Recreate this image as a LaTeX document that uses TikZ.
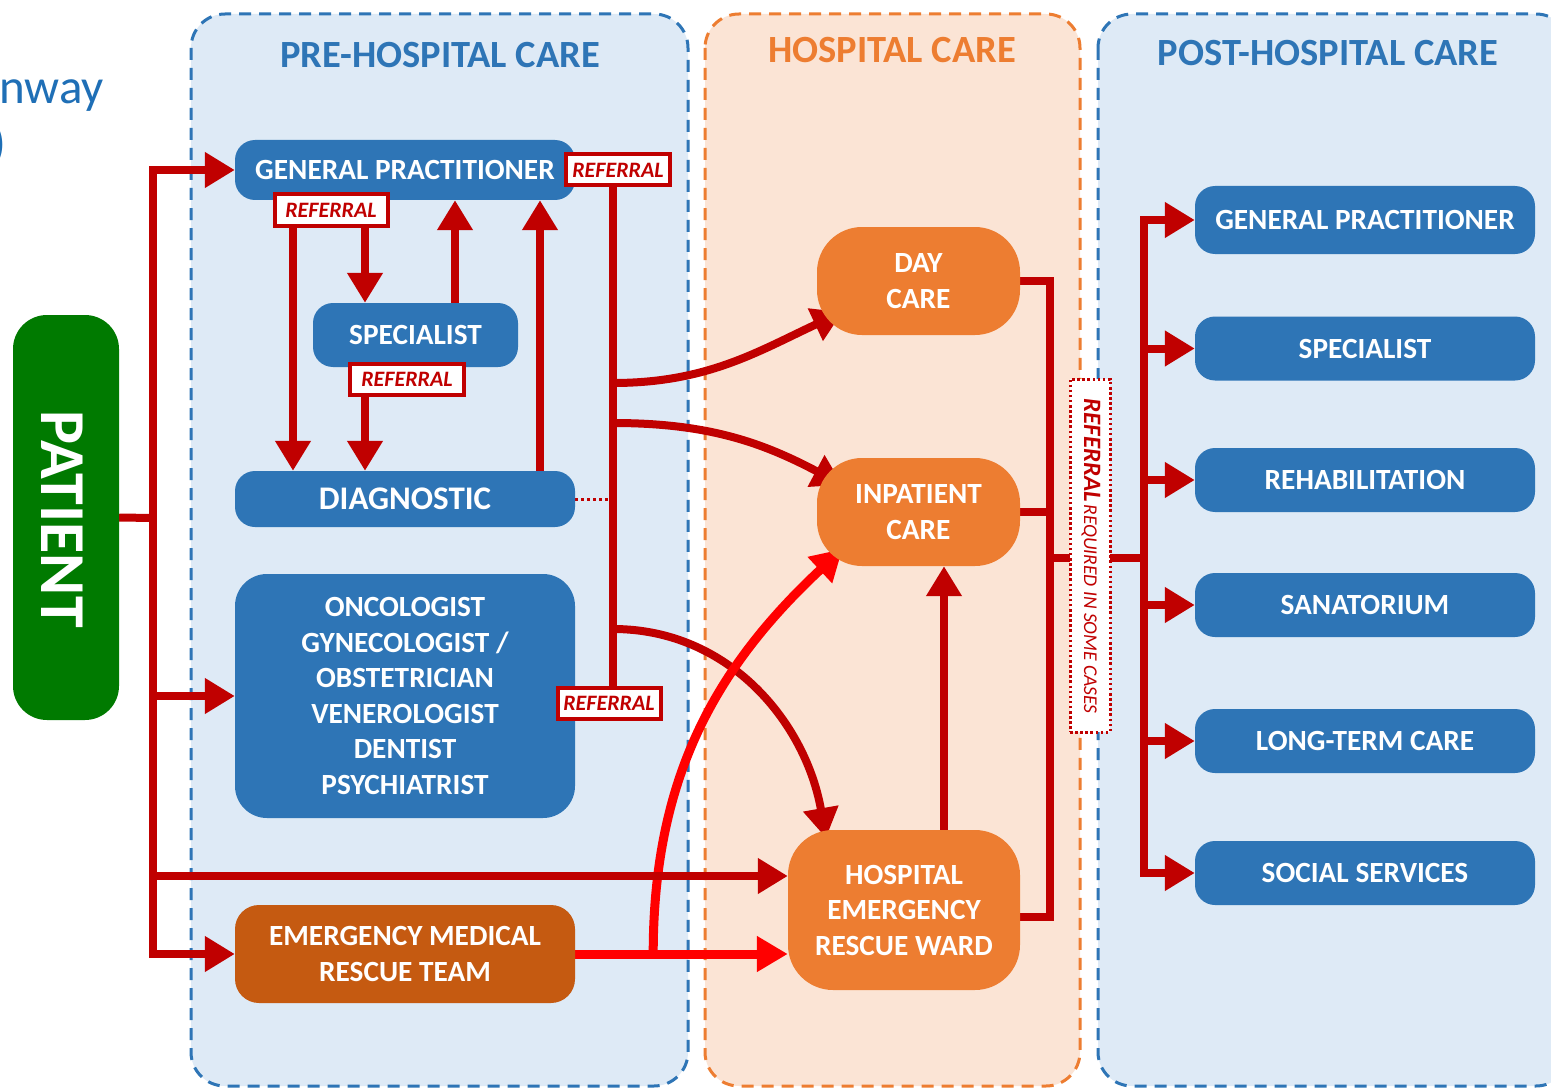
\documentclass[tikz,border=0pt]{standalone}
\usepackage{fontspec}
\setmainfont{Carlito}
\usetikzlibrary{arrows.meta,calc}

\definecolor{cBlue}{HTML}{2E75B6}
\definecolor{cPaleBlue}{HTML}{DEEAF6}
\definecolor{cPaleOrange}{HTML}{FBE4D5}
\definecolor{cOrange}{HTML}{ED7D31}
\definecolor{cDarkOrange}{HTML}{C55A11}
\definecolor{cRed}{HTML}{C00000}
\definecolor{cBright}{HTML}{FF0000}
\definecolor{cGreen}{HTML}{007A00}
\definecolor{cTitle}{HTML}{1F6FB6}

\newcommand{\bxfont}{\fontsize{29.3}{35.5}\selectfont\bfseries}
\newcommand{\hdfont}{\fontsize{38.5}{40}\selectfont\bfseries}
\newcommand{\rffont}{\fontsize{22}{24}\selectfont\bfseries\itshape}

\pgfdeclarelayer{panels}
\pgfdeclarelayer{links}
\pgfsetlayers{panels,links,main}

\tikzset{
  x=1pt, y=1pt,
  panel/.style={line width=3pt, dash pattern=on 12pt off 8pt, rounded corners=34pt},
  basebox/.style={inner sep=0pt, align=center, text=white, font=\bxfont},
  bluebox/.style={basebox, fill=cBlue, rounded corners=20pt},
  orangebox/.style={basebox, fill=cOrange, rounded corners=45pt},
  refbox/.style={draw=cRed, line width=4pt, fill=white, text=cRed, inner sep=0pt,
    font=\rffont, minimum height=31pt},
  header/.style={inner sep=0pt, font=\hdfont},
  link/.style={draw=cRed, line width=8pt},
  arrowlink/.style={link, -{Triangle[length=30pt,width=34pt]}},
  brightlink/.style={draw=cBright, line width=9pt, -{Triangle[length=31pt,width=34pt]}},
}

\begin{document}
\begin{tikzpicture}
\useasboundingbox (0,0) rectangle (1551,-1089);

% the three care stages
\begin{pgfonlayer}{panels}
  \fill[white] (0,0) rectangle (1551,-1089);
  \filldraw[panel, fill=cPaleBlue, draw=cBlue] (191,-14) rectangle (688,-1086);
  \filldraw[panel, fill=cPaleOrange, draw=cOrange] (705,-14) rectangle (1080,-1086);
  \filldraw[panel, fill=cPaleBlue, draw=cBlue] (1098,-14) rectangle (1570,-1086);
\end{pgfonlayer}

% partly visible title at the left edge
\node[anchor=base west, inner sep=0pt, text=cTitle, font=\fontsize{49}{49}\selectfont] (titleA) at (-1,-104) {nway};
\node[anchor=base east, inner sep=0pt, text=cTitle, font=\fontsize{49}{49}\selectfont] (titleB) at (7,-160) {)};

\node[header, text=cBlue] (hPre) at (440,-55) {PRE-HOSPITAL CARE};
\node[header, text=cOrange] (hHosp) at (892,-50) {HOSPITAL CARE};
\node[header, text=cBlue] (hPost) at (1328,-53) {POST-HOSPITAL CARE};

% patient
\node[fill=cGreen, rounded corners=34pt, minimum width=106pt, minimum height=405pt, inner sep=0pt] (patient) at (66,-517.5) {};
\node[rotate=-90, text=white, inner sep=0pt, font=\fontsize{64}{64}\selectfont\bfseries] (patientText) at (62,-519) {PATIENT};

% pre-hospital care
\node[bluebox, minimum width=340pt, minimum height=60pt] (gp1) at (405,-170) {GENERAL PRACTITIONER};
\node[bluebox, minimum width=205pt, minimum height=64pt] (spec1) at (415.5,-335) {SPECIALIST};
\node[bluebox, minimum width=340pt, minimum height=56pt, font=\fontsize{33}{36}\selectfont\bfseries] (diag) at (405,-499) {DIAGNOSTIC};
\node[bluebox, minimum width=340pt, minimum height=244pt, rounded corners=32pt] (onco) at (405,-696)
  {ONCOLOGIST\\GYNECOLOGIST /\\OBSTETRICIAN\\VENEROLOGIST\\DENTIST\\PSYCHIATRIST};
\node[basebox, fill=cDarkOrange, rounded corners=24pt, minimum width=340pt, minimum height=98pt] (emrt) at (405,-954)
  {EMERGENCY MEDICAL\\RESCUE TEAM};

\node[refbox, minimum width=104pt] (r1) at (618,-170) {REFERRAL};
\node[refbox, minimum width=113pt] (r2) at (331,-210) {REFERRAL};
\node[refbox, minimum width=114pt] (r3) at (407,-379) {REFERRAL};
\node[refbox, minimum width=103pt] (r4) at (609,-703) {REFERRAL};

% hospital care
\node[orangebox, minimum width=203pt, minimum height=108pt] (day) at (918.5,-281) {DAY\\CARE};
\node[orangebox, minimum width=203pt, minimum height=108pt] (inp) at (918.5,-512) {INPATIENT\\CARE};
\node[orangebox, minimum width=232pt, minimum height=160pt] (herw) at (904,-910) {HOSPITAL\\EMERGENCY\\RESCUE WARD};

% referral note between hospital and post-hospital care
\node[draw=cRed, fill=white, line width=3pt, dash pattern=on 2.5pt off 2.6pt, minimum width=40pt, minimum height=353pt, inner sep=0pt] (refNote) at (1090,-555.5) {};
\node[rotate=-90, text=cRed, inner sep=0pt] (refNoteText) at (1091,-556)
  {{\fontsize{25}{26}\selectfont\bfseries\itshape REFERRAL} {\fontsize{19.5}{20}\selectfont\itshape REQUIRED IN SOME CASES}};

% post-hospital care
\node[bluebox, minimum width=340pt, minimum height=68pt] (p1) at (1365,-220) {GENERAL PRACTITIONER};
\node[bluebox, minimum width=340pt, minimum height=64pt] (p2) at (1365,-348.5) {SPECIALIST};
\node[bluebox, minimum width=340pt, minimum height=64pt] (p3) at (1365,-480) {REHABILITATION};
\node[bluebox, minimum width=340pt, minimum height=64pt] (p4) at (1365,-605) {SANATORIUM};
\node[bluebox, minimum width=340pt, minimum height=64pt] (p5) at (1365,-741) {LONG-TERM CARE};
\node[bluebox, minimum width=340pt, minimum height=64pt] (p6) at (1365,-873) {SOCIAL SERVICES};

% junctions and rails
\coordinate (jP) at (153,-518);
\coordinate (cA) at (293,0);
\coordinate (cB) at (365,0);
\coordinate (cC) at (455,0);
\coordinate (cD) at (540,0);
\coordinate (cE) at (613,0);
\coordinate (cF) at (944,0);
\coordinate (k1) at (613,-383);
\coordinate (k2) at (613,-423);
\coordinate (k3) at (613,-629);
\coordinate (tDay) at ($(day.center)+(-76,-31)$);
\coordinate (tInp) at ($(inp.center)+(-76,27)$);
\coordinate (tInpLow) at ($(inp.center)+(-76,-37)$);
\coordinate (tHer) at ($(herw.center)+(-78,72)$);
\coordinate (hIn) at ($(herw.west)+(0,34)$);
\coordinate (hOut) at ($(herw.east)+(0,-7)$);
\coordinate (bSplit) at ($(emrt.east)+(78,0)$);
\coordinate (jH) at (1050,-558);
\coordinate (jR) at (1144,-558);

\begin{pgfonlayer}{links}
  % within pre-hospital care
  \draw[arrowlink] (cA |- r2.south) -- (cA |- diag.north);
  \draw[arrowlink] (cB |- r2.south) -- (cB |- spec1.north);
  \draw[arrowlink] (cC |- spec1.north) -- (cC |- gp1.south);
  \draw[arrowlink] (cD |- diag.north) -- (cD |- gp1.south);
  \draw[arrowlink] (cB |- r3.south) -- (cB |- diag.north);
  \draw[link] (cE |- r1.south) -- (cE |- r4.north);
  \draw[draw=cRed, line width=3pt, dash pattern=on 3pt off 3pt] (diag.east) -- (cE |- diag.east);

  % referrals into hospital care
  \draw[arrowlink] (k1) to[out=0, in=205] (tDay);
  \draw[arrowlink] (k2) to[out=0, in=152] (tInp);
  \draw[arrowlink] (k3) to[out=0, in=100] (tHer);
  \draw[arrowlink] (herw.north -| cF) -- (inp.south -| cF);

  % emergency team
  \draw[brightlink] (bSplit) to[out=90, in=223] (tInpLow);
  \draw[brightlink] (emrt.east) -- (emrt.east -| herw.west);

  % from the patient
  \draw[link] (patient.east) -- (jP);
  \draw[arrowlink] (jP) |- (gp1.west);
  \draw[arrowlink] (jP) |- (onco.west);
  \draw[arrowlink] (jP) |- (hIn);
  \draw[arrowlink] (jP) |- (emrt.west);

  % discharge to post-hospital care
  \draw[link] (day.east) -| (jH);
  \draw[link] (hOut) -| (jH);
  \draw[link] (inp.east) -- (inp.east -| jH);
  \draw[link] (jH) -- (jR);
  \draw[arrowlink] (jR) |- (p1.west);
  \draw[arrowlink] (jR) |- (p2.west);
  \draw[arrowlink] (jR) |- (p3.west);
  \draw[arrowlink] (jR) |- (p4.west);
  \draw[arrowlink] (jR) |- (p5.west);
  \draw[arrowlink] (jR) |- (p6.west);
\end{pgfonlayer}
\end{tikzpicture}
\end{document}
